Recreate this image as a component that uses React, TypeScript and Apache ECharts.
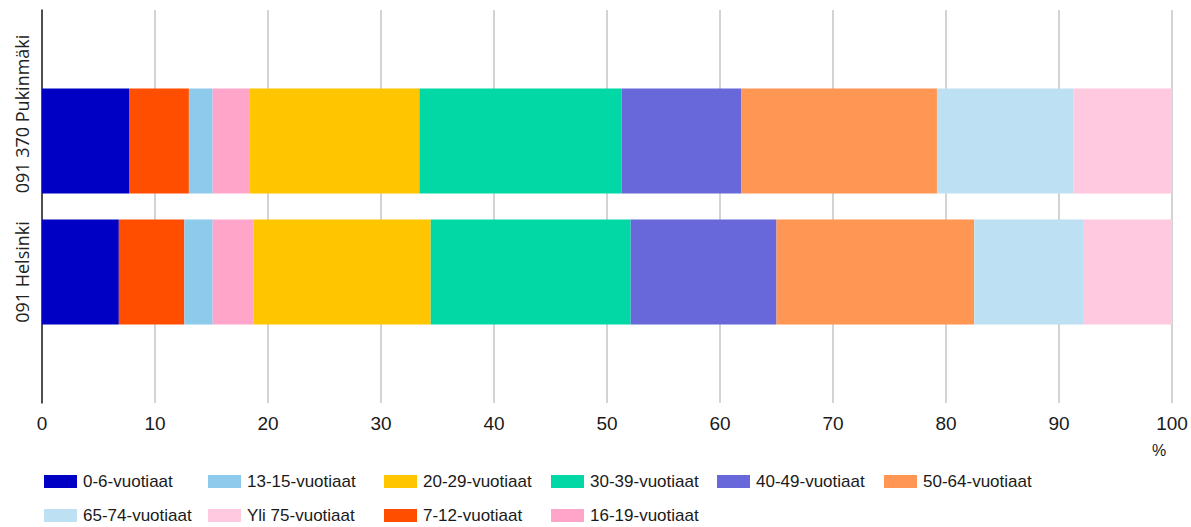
import React, { useEffect, useRef } from "react";
import * as echarts from "echarts";

const categories = ["091 370 Pukinmäki", "091 Helsinki"];
const ageGroups = [
  "0-6-vuotiaat",
  "7-12-vuotiaat",
  "13-15-vuotiaat",
  "16-19-vuotiaat",
  "20-29-vuotiaat",
  "30-39-vuotiaat",
  "40-49-vuotiaat",
  "50-64-vuotiaat",
  "65-74-vuotiaat",
  "Yli 75-vuotiaat",
];
const pukinmaki = [7.7, 5.3, 2.1, 3.3, 15.0, 17.9, 10.6, 17.3, 12.1, 8.7];
const helsinki = [6.8, 5.8, 2.5, 3.6, 15.7, 17.7, 12.9, 17.5, 9.7, 7.8];
const colors = [
  "#0000c4",
  "#ff4e00",
  "#8ecaec",
  "#ffa5c9",
  "#ffc600",
  "#02d7a6",
  "#6868da",
  "#ff9654",
  "#bde0f2",
  "#ffc9e0",
];
const legendOrder = [
  "0-6-vuotiaat",
  "13-15-vuotiaat",
  "20-29-vuotiaat",
  "30-39-vuotiaat",
  "40-49-vuotiaat",
  "50-64-vuotiaat",
  "65-74-vuotiaat",
  "Yli 75-vuotiaat",
  "7-12-vuotiaat",
  "16-19-vuotiaat",
];
const xTicks = { min: 0, max: 100, interval: 10 };
const unitLabel = "%";

const legendCols = [44, 208, 384, 551, 717, 884];
const legendRows = [473, 507];

export default function App() {
  const ref = useRef<HTMLDivElement>(null);
  useEffect(() => {
    if (!ref.current) return;
    const chart = echarts.init(ref.current, null, { renderer: "svg" });
    const paddedCats = ["", ...categories, ""];
    const series = ageGroups.map((name, i) => ({
      name,
      type: "bar",
      stack: "total",
      barWidth: "80%",
      itemStyle: { color: colors[i] },
      data: [null, pukinmaki[i], helsinki[i], null],
    }));
    const legends = legendOrder.map((name, k) => ({
      data: [name],
      left: legendCols[k % 6],
      top: legendRows[Math.floor(k / 6)],
      padding: 0,
      itemWidth: 33,
      itemHeight: 13,
      icon: "rect",
      selectedMode: false,
      textStyle: {
        fontFamily: "Liberation Sans",
        fontSize: 17,
        color: "#1a1a1a",
        padding: [0, 0, 0, 1],
      },
    }));
    chart.setOption({
      animation: false,
      title: {
        text: unitLabel,
        left: 1152,
        top: 442,
        padding: 0,
        textStyle: {
          fontFamily: "Liberation Sans",
          fontSize: 16,
          fontWeight: "normal",
          color: "#1a1a1a",
        },
      },
      legend: legends,
      grid: { left: 42, right: 19, top: 10, bottom: 124, containLabel: false },
      xAxis: {
        type: "value",
        min: xTicks.min,
        max: xTicks.max,
        interval: xTicks.interval,
        axisLine: { show: false },
        axisTick: { show: false },
        splitLine: { lineStyle: { color: "#c4c4c4", width: 1.5 } },
        axisLabel: {
          fontFamily: "Liberation Sans",
          fontSize: 19,
          color: "#1a1a1a",
          margin: 11,
        },
      },
      yAxis: {
        type: "category",
        inverse: true,
        boundaryGap: false,
        data: paddedCats,
        axisLine: { lineStyle: { color: "#222", width: 1.5 } },
        axisTick: { show: false },
        splitLine: { show: false },
        axisLabel: {
          rotate: 90,
          margin: 11,
          interval: 0,
          fontFamily: "Open Sans",
          fontSize: 18,
          color: "#222",
          formatter: (v: string) =>
            v === categories[0] ? `{a|${v}}` : `{b|${v}}`,
          rich: {
            a: { fontFamily: "Open Sans", fontSize: 18, color: "#222", padding: [0, 0, 0, 54] },
            b: { fontFamily: "Open Sans", fontSize: 18, color: "#222" },
          },
        },
      },
      series,
    });
    return () => chart.dispose();
  }, []);
  return <div ref={ref} style={{ width: 1191, height: 527, position: "absolute", left: 0, top: 0 }} />;
}
